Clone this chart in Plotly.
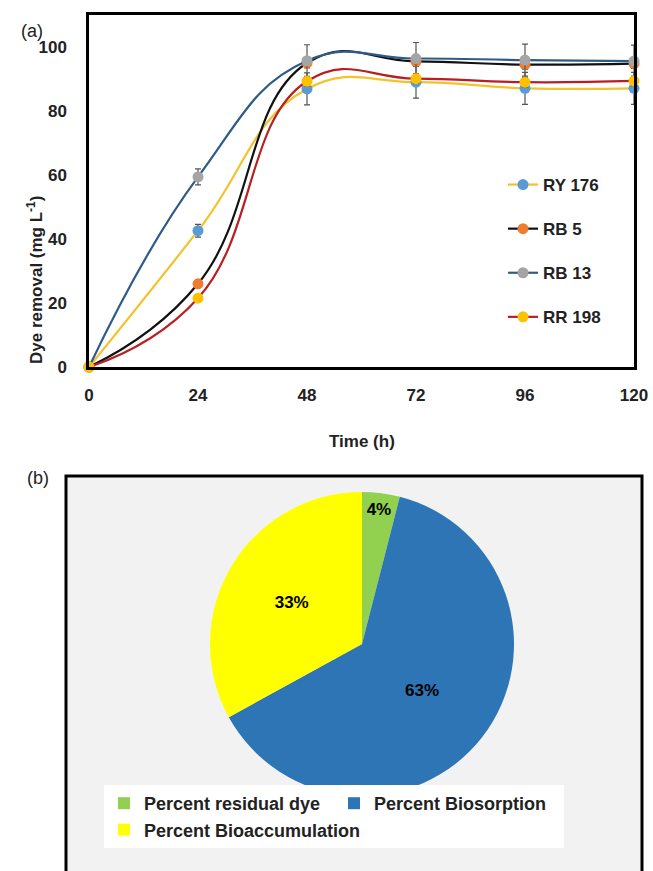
import plotly.graph_objects as go

# ---------------- data ----------------
time_h = [0, 24, 48, 72, 96, 120]
series_names = ["RY 176", "RB 5", "RB 13", "RR 198"]
ry176 = [0, 42.6, 86.9, 89.0, 87.1, 87.1]
rb5 = [0, 26.0, 95.0, 95.5, 94.5, 94.8]
rb13 = [0, 59.4, 95.7, 96.4, 95.9, 95.6]
rr198 = [0, 21.5, 89.3, 90.1, 89.0, 89.4]
err_ry176 = [0, 2.0, 5.0, 5.0, 5.0, 5.0]
err_rb5 = [0, 1.0, 1.5, 1.5, 1.5, 1.5]
err_rb13 = [0, 2.5, 5.0, 5.0, 5.0, 5.0]
err_rr198 = [0, 1.0, 1.5, 1.5, 1.5, 1.5]

pie_labels = ["Percent residual dye", "Percent Biosorption", "Percent Bioaccumulation"]
pie_values = [4, 63, 33]

x_ticks = [0, 24, 48, 72, 96, 120]
y_ticks = [0, 20, 40, 60, 80, 100]

# ---------------- styles ----------------
W, H = 653, 871
FONT = "Liberation Sans, Arial, sans-serif"
line_colors = ["#F5C22B", "#111111", "#2F5C86", "#B81E22"]
marker_colors = ["#5B9BD5", "#ED7D31", "#A5A5A5", "#FFC000"]
values = [ry176, rb5, rb13, rr198]
errors = [err_ry176, err_rb5, err_rb13, err_rr198]

def px_x(p):
    return p / W

def px_y(p):
    return 1 - p / H

fig = go.Figure()

for i, name in enumerate(series_names):
    fig.add_trace(go.Scatter(
        x=time_h, y=values[i], name=name, mode="lines+markers",
        line=dict(color=line_colors[i], width=2.2, shape="spline", smoothing=1.3),
        marker=dict(color=marker_colors[i], size=11),
        error_y=dict(type="data", array=errors[i], visible=True,
                     color="#555555", thickness=1.2, width=3),
        cliponaxis=False, legendgroup=name, legend="legend",
    ))

fig.add_trace(go.Pie(
    labels=pie_labels, values=pie_values, sort=False, direction="clockwise",
    rotation=0, marker=dict(colors=["#92D050", "#2E75B6", "#FFFF00"]),
    texttemplate="%{percent:.0%}", textposition="inside",
    insidetextorientation="horizontal",
    textfont=dict(family=FONT, size=17, color="black", weight="bold"),
    domain=dict(x=[px_x(210), px_x(514)], y=[px_y(796), px_y(492)]),
    legend="legend2", hoverinfo="label+percent",
))

fig.update_layout(
    width=W, height=H,
    margin=dict(l=0, r=0, t=0, b=0, autoexpand=False),
    paper_bgcolor="white", plot_bgcolor="white",
    font=dict(family=FONT, color="#222222"),
    uniformtext=dict(minsize=17, mode="show"),
    xaxis=dict(domain=[px_x(89), px_x(634)], range=[0, 120], tickvals=x_ticks,
               showgrid=False, zeroline=False, showline=True, mirror=True,
               linecolor="black", linewidth=2.5, ticks="",
               ticklabelstandoff=11,
               tickfont=dict(size=17, weight="bold", color="#222222")),
    yaxis=dict(domain=[px_y(367), px_y(15)], range=[0, 110], tickvals=y_ticks,
               showgrid=False, zeroline=False, showline=True, mirror=True,
               linecolor="black", linewidth=2.5, ticks="",
               ticklabelstandoff=16,
               tickfont=dict(size=17, weight="bold", color="#222222")),
    legend=dict(x=px_x(503), y=px_y(167), xanchor="left", yanchor="top",
                bgcolor="rgba(0,0,0,0)", tracegroupgap=19,
                font=dict(size=17, weight="bold", color="#222222"),
                itemwidth=30),
    legend2=dict(orientation="h", x=px_x(104), y=px_y(785), xanchor="left",
                 yanchor="top", bgcolor="white", entrywidth=185,
                 font=dict(size=18, weight="bold", color="#222222"),
                 itemwidth=30),
    showlegend=True,
)

# pie panel box
fig.add_shape(type="rect", xref="paper", yref="paper",
              x0=px_x(66), x1=px_x(642), y0=px_y(880), y1=px_y(476),
              line=dict(color="black", width=3), fillcolor="#F2F2F2", layer="below")

# titles / panel labels
fig.add_annotation(text="Dye removal (mg L<sup>-1</sup>)", xref="paper", yref="paper",
                   x=px_x(22), y=px_y(194), textangle=-90, showarrow=False,
                   font=dict(size=17, weight="bold", color="#222222"))
fig.add_annotation(text="Time (h)", xref="paper", yref="paper",
                   x=px_x(362), y=px_y(441), showarrow=False,
                   font=dict(size=17, weight="bold", color="#222222"))
fig.add_annotation(text="(a)", xref="paper", yref="paper",
                   x=px_x(19), y=px_y(19), showarrow=False,
                   font=dict(size=18, color="#222222"))
fig.add_annotation(text="(b)", xref="paper", yref="paper",
                   x=px_x(25), y=px_y(478), showarrow=False,
                   font=dict(size=18, color="#222222"))

fig.write_html("out.html")
